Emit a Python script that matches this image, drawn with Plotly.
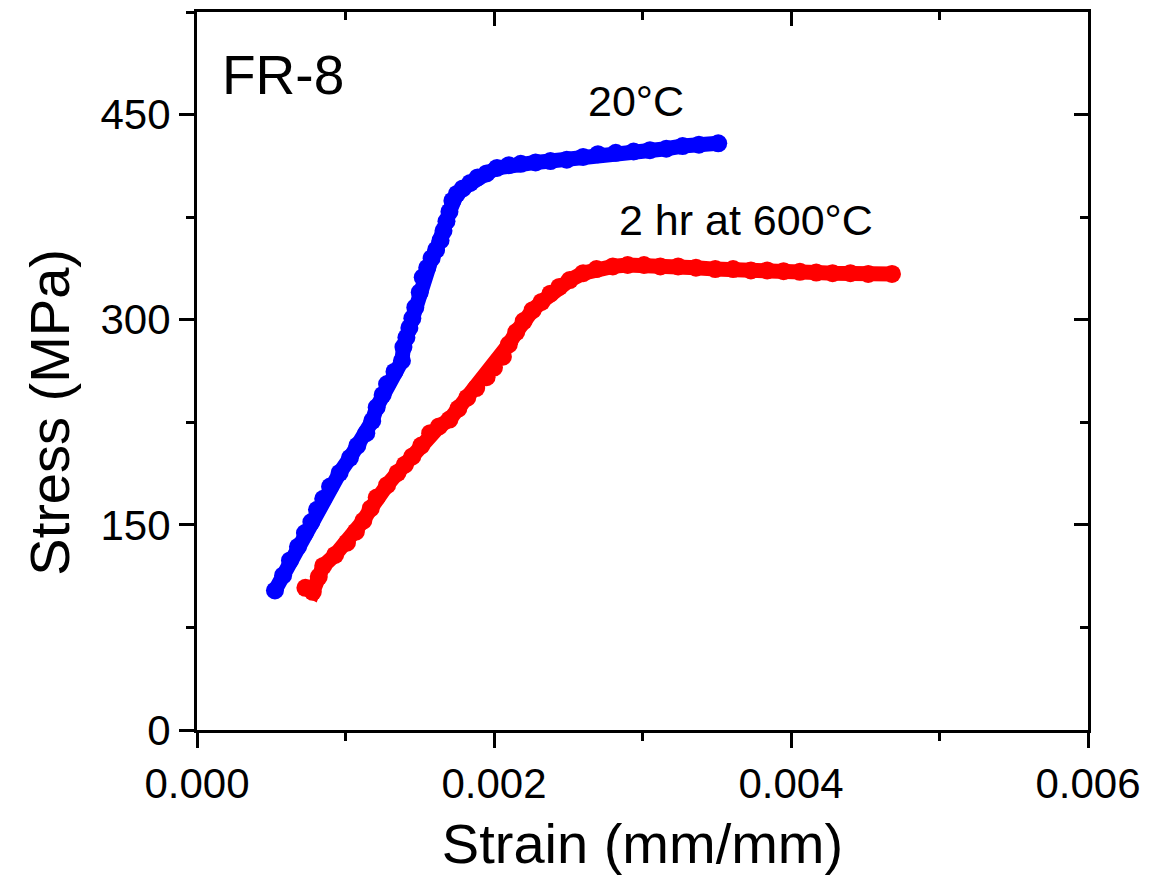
import plotly.graph_objects as go

# ---- data ----
blue_strain = [0.000525, 0.00058, 0.000626, 0.00068, 0.000727, 0.00077, 0.000808, 0.00085,
               0.000896, 0.00096, 0.00103, 0.00108, 0.00114, 0.00118, 0.00121, 0.00125,
               0.00128, 0.00133, 0.00138, 0.00139, 0.00141, 0.00143, 0.00145, 0.00147,
               0.00150, 0.00152, 0.00155, 0.00158, 0.00161, 0.00164, 0.00166, 0.00168,
               0.00170, 0.00172, 0.00175, 0.00179, 0.00184, 0.00189, 0.00195, 0.00202,
               0.00210, 0.00218, 0.00228, 0.00238, 0.00249, 0.00260, 0.00270, 0.00282,
               0.00294, 0.00305, 0.00316, 0.00327, 0.00338, 0.00351]
blue_stress = [102, 113, 124, 134, 144, 152, 161, 169,
               178, 188, 199, 208, 217, 226, 236, 245,
               253, 262, 270, 280, 287, 294, 301, 309,
               320, 331, 338, 345, 351, 358, 365, 372,
               379, 387, 392, 396, 400, 404, 407, 411,
               413, 414, 415, 416, 417, 419, 421, 422,
               423, 424, 425, 427, 428, 429]

red_strain = [0.00073, 0.00078, 0.00082, 0.00085, 0.00093, 0.00101, 0.00107, 0.00112,
              0.00117, 0.00121, 0.00128, 0.00135, 0.00140, 0.00145, 0.00151, 0.00157,
              0.00163, 0.00170, 0.00176, 0.00182, 0.00188, 0.00195, 0.00200, 0.00206,
              0.00210, 0.00215, 0.00220, 0.00226, 0.00232, 0.00238, 0.00244, 0.00251,
              0.00260, 0.00269, 0.00280, 0.00290, 0.00301, 0.00312, 0.00324, 0.00336,
              0.00349, 0.00361, 0.00373, 0.00384, 0.00395, 0.00406, 0.00417, 0.00428,
              0.00440, 0.00452, 0.00468]
red_stress = [104, 101, 112, 120, 128, 137, 145, 153,
              162, 170, 179, 188, 194, 200, 208, 217,
              222, 227, 235, 243, 250, 258, 265, 273,
              282, 291, 299, 307, 313, 319, 324, 329,
              334, 337, 339, 340, 340, 339, 339, 338,
              337, 337, 336, 336, 335.5, 335, 334.5, 334,
              334, 333.5, 333.5]

x_ticks = [0.000, 0.002, 0.004, 0.006]
x_ticklabels = ["0.000", "0.002", "0.004", "0.006"]
y_ticks = [0, 150, 300, 450]
y_ticklabels = ["0", "150", "300", "450"]

FONT = "Arial, Liberation Sans, sans-serif"
BLUE = "#0000FF"
RED = "#FF0000"

fig = go.Figure()
for xs, ys, col, name in [(blue_strain, blue_stress, BLUE, "20°C"),
                          (red_strain, red_stress, RED, "2 hr at 600°C")]:
    fig.add_trace(go.Scatter(
        x=xs, y=ys, mode="lines+markers", name=name, showlegend=False,
        line=dict(color=col, width=15),
        marker=dict(color=col, size=18, line=dict(width=0)),
    ))

# dummy trace to activate mirror axes
fig.add_trace(go.Scatter(x=[None], y=[None], xaxis="x2", yaxis="y2",
                         showlegend=False, hoverinfo="skip"))

common = dict(showline=True, linewidth=3, linecolor="black", showgrid=False,
              zeroline=False, tickwidth=3, tickcolor="black")

fig.update_layout(
    width=1176, height=885,
    margin=dict(l=197, r=88, t=12, b=155),
    plot_bgcolor="white", paper_bgcolor="white",
    font=dict(family=FONT, color="black"),
    xaxis=dict(range=[0, 0.006], tickvals=x_ticks, ticktext=x_ticklabels,
               ticks="outside", ticklen=15,
               minor=dict(dtick=0.001, tick0=0, ticks="outside", ticklen=8,
                          tickwidth=3, tickcolor="black"),
               tickfont=dict(size=42, family=FONT),
               title=dict(text="Strain (mm/mm)", font=dict(size=56, family=FONT), standoff=18),
               **common),
    yaxis=dict(range=[0, 525], tickvals=y_ticks, ticktext=y_ticklabels,
               ticks="outside", ticklen=15,
               minor=dict(dtick=75, tick0=0, ticks="outside", ticklen=8,
                          tickwidth=3, tickcolor="black"),
               tickfont=dict(size=42, family=FONT),
               **common),
    xaxis2=dict(range=[0, 0.006], overlaying="x", side="top", anchor="y2",
                tickvals=x_ticks, showticklabels=False, ticks="inside", ticklen=14,
                minor=dict(dtick=0.001, tick0=0, ticks="inside", ticklen=8,
                           tickwidth=3, tickcolor="black"),
                **common),
    yaxis2=dict(range=[0, 525], overlaying="y", side="right", anchor="x2",
                tickvals=y_ticks, showticklabels=False, ticks="inside", ticklen=14,
                minor=dict(dtick=75, tick0=0, ticks="inside", ticklen=8,
                           tickwidth=3, tickcolor="black"),
                **common),
)

# y-axis title (placed to match the reference's offset position)
fig.add_annotation(xref="paper", yref="paper", x=-0.165, y=0.4433, text="Stress (MPa)",
                   textangle=-90, showarrow=False, xanchor="center", yanchor="middle",
                   font=dict(size=56, family=FONT, color="black"))

fig.add_annotation(x=0.000155, y=479, text="FR-8", showarrow=False, xanchor="left",
                   yanchor="middle", font=dict(size=55, family=FONT, color="black"))
fig.add_annotation(x=0.002956, y=459.6, text="20°C", showarrow=False, xanchor="center",
                   yanchor="middle", font=dict(size=43, family=FONT, color="black"))
fig.add_annotation(x=0.0037, y=372.8, text="2 hr at 600°C", showarrow=False, xanchor="center",
                   yanchor="middle", font=dict(size=43, family=FONT, color="black"))

fig.write_html("out.html")
